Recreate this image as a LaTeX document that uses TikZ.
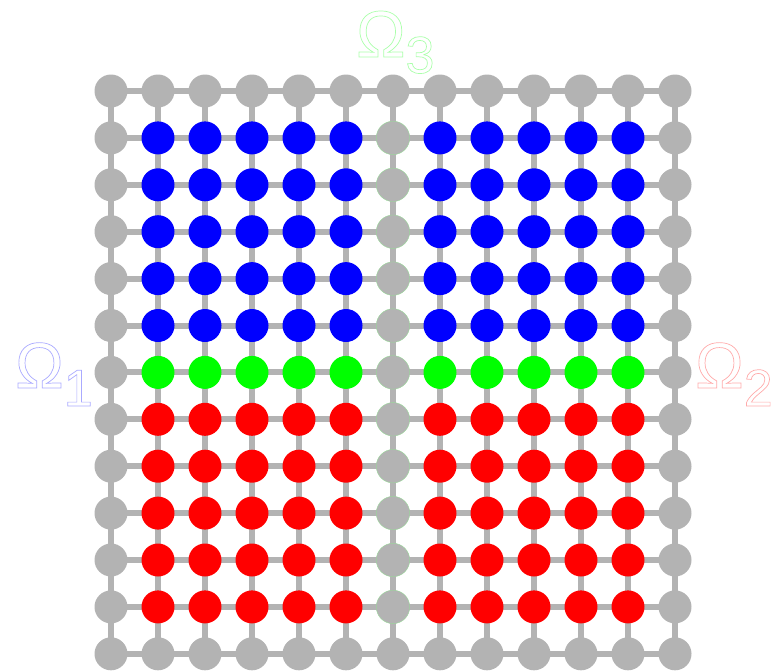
\documentclass[tikz,border=0pt]{standalone}
\usepackage{fontspec}
\setmainfont{Liberation Sans}
\usetikzlibrary{backgrounds}
\definecolor{gridgray}{RGB}{179,179,179}
\definecolor{lblblue}{RGB}{170,170,255}
\definecolor{lblred}{RGB}{255,170,170}
\definecolor{lblgreen}{RGB}{170,255,170}
\definecolor{midedge}{RGB}{150,220,150}
\newcommand{\outlinetext}[1]{\special{pdf:literal direct 1 Tr 0.7 w}#1\special{pdf:literal direct 0 Tr}}
\tikzset{
  pt/.style={circle, inner sep=0pt, minimum size=33pt, fill=#1},
  mid/.style={pt=gridgray, draw=midedge, line width=0.35pt, minimum size=33.5pt},
  edge/.style={draw=gridgray, line width=6pt},
  lbl/.style={inner sep=0pt, anchor=base west, text=#1}
}
\begin{document}
\begin{tikzpicture}[x=1pt,y=-1pt]
\useasboundingbox (0,0) rectangle (774,672);
\foreach \i in {0,...,12}{
  \foreach \j in {0,...,12}{
    \pgfmathsetmacro{\xx}{111+47*\i}
    \pgfmathsetmacro{\yy}{91+46.9*\j}
    \def\sty{pt=gridgray}
    \ifnum\i>0 \ifnum\i<12 \ifnum\j>0 \ifnum\j<12
      \ifnum\i=6 \def\sty{mid}\else
        \ifnum\j<6 \def\sty{pt=blue}\else
          \ifnum\j=6 \def\sty{pt=green}\else \def\sty{pt=red}\fi
        \fi
      \fi
    \fi\fi\fi\fi
    \expandafter\node\expandafter[\sty] (n-\i-\j) at (\xx,\yy) {};
  }
}
\begin{scope}[on background layer]
\foreach \i in {0,...,11}{
  \foreach \j in {0,...,12}{
    \pgfmathtruncatemacro{\k}{\i+1}
    \draw[edge] (n-\i-\j.center) -- (n-\k-\j.center);
    \draw[edge] (n-\j-\i.center) -- (n-\j-\k.center);
  }
}
\end{scope}
\node[lbl=lblblue] (o1) at (15,388) {\outlinetext{\fontsize{65}{65}\selectfont Ω\lower18pt\hbox{\fontsize{52}{52}\selectfont 1}}};
\node[lbl=lblred] (o2) at (695,388) {\outlinetext{\fontsize{65}{65}\selectfont Ω\lower18pt\hbox{\fontsize{52}{52}\selectfont 2}}};
\node[lbl=lblgreen] (o3) at (356,57) {\outlinetext{\fontsize{66}{66}\selectfont Ω\lower16pt\hbox{\fontsize{52}{52}\selectfont 3}}};
\end{tikzpicture}
\end{document}
